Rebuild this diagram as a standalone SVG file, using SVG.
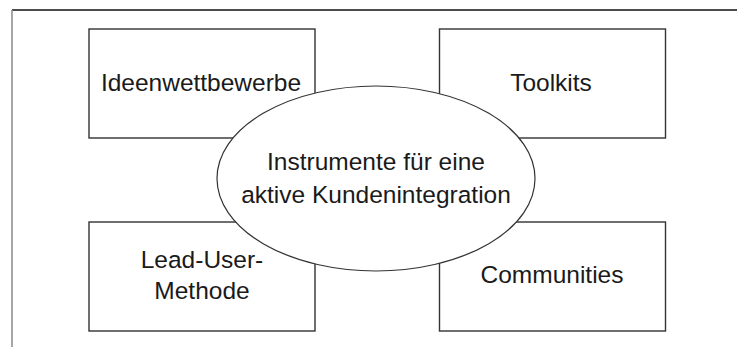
<svg xmlns="http://www.w3.org/2000/svg" width="737" height="347" viewBox="0 0 737 347">
  <style>
    .box { fill: #ffffff; stroke: #333333; stroke-width: 1.4; }
    .hub { fill: #ffffff; stroke: #333333; stroke-width: 1.2; }
    .label { font-family: "Liberation Sans", Arial, sans-serif; font-size: 24.5px; fill: #1a1a1a; text-anchor: middle; }
  </style>
  <rect width="737" height="347" fill="#ffffff"/>
  <!-- frame -->
  <g id="frame">
    <line x1="12" y1="10" x2="737" y2="10" stroke="#111111" stroke-width="1.5"/>
    <line x1="12" y1="10" x2="12" y2="347" stroke="#8a8a8a" stroke-width="1.5"/>
  </g>
  <g id="connectors"></g>
  <g id="ideenwettbewerbe">
    <rect class="box" x="89" y="29" width="226" height="109"/>
    <text class="label" x="201" y="91">Ideenwettbewerbe</text>
  </g>
  <g id="toolkits">
    <rect class="box" x="439.5" y="29" width="226" height="109"/>
    <text class="label" x="551" y="91">Toolkits</text>
  </g>
  <g id="lead-user">
    <rect class="box" x="89" y="222" width="226" height="109"/>
    <text class="label" x="202" y="268">Lead-User-</text>
    <text class="label" x="202" y="299">Methode</text>
  </g>
  <g id="communities">
    <rect class="box" x="439.5" y="222" width="226" height="109"/>
    <text class="label" x="552" y="283">Communities</text>
  </g>
  <g id="instrumente">
    <ellipse class="hub" cx="376" cy="178.5" rx="159" ry="92.5"/>
    <text class="label" x="376" y="170">Instrumente für eine</text>
    <text class="label" x="376" y="203">aktive Kundenintegration</text>
  </g>
</svg>
